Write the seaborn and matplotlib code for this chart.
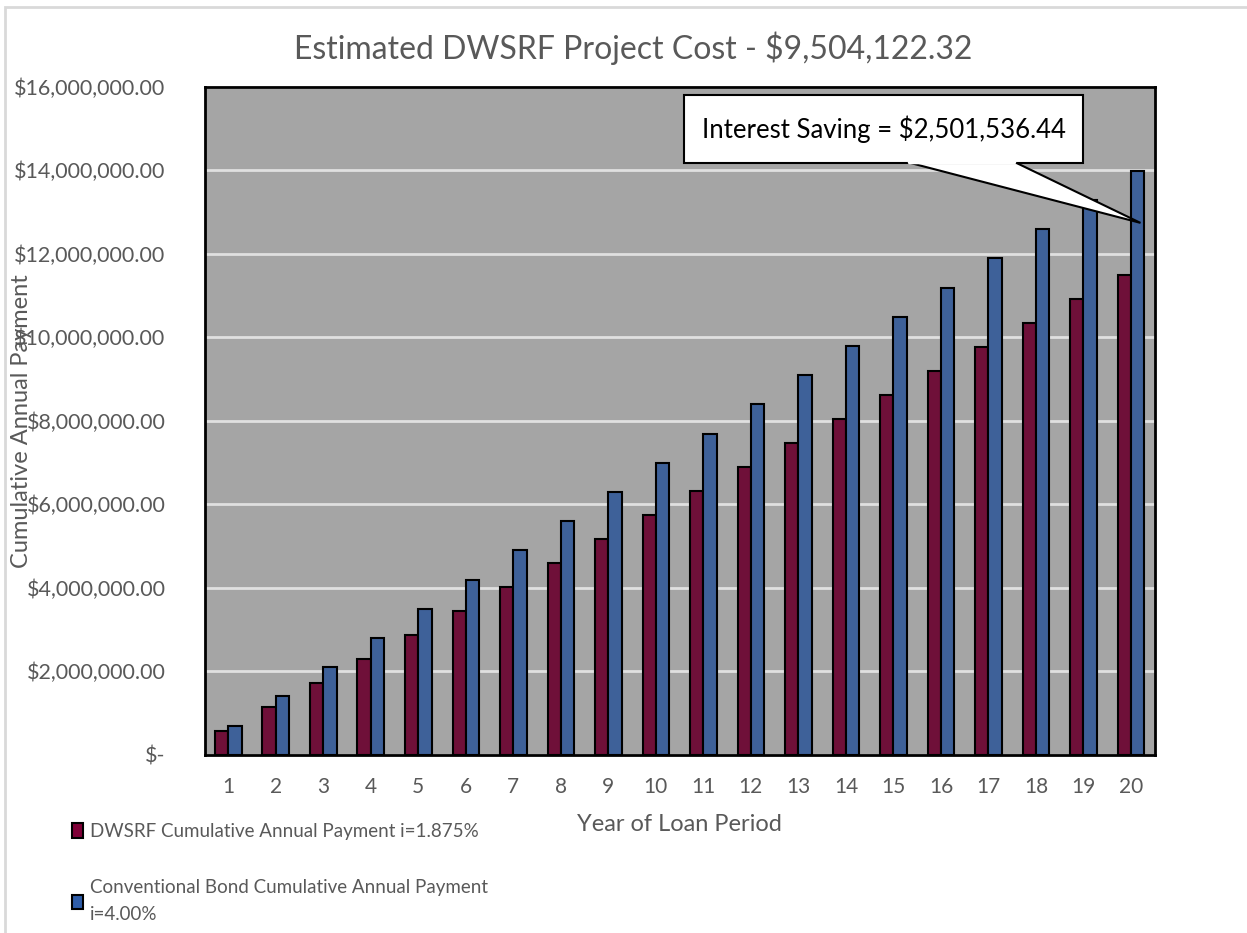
import numpy as np
import pandas as pd
import matplotlib
matplotlib.use('Agg')
import matplotlib.pyplot as plt
import matplotlib.patches as mpatches
from matplotlib.ticker import FuncFormatter
import seaborn as sns

# data
years = list(range(1, 21))
dwsrf = [574300, 1148600, 1722900, 2297200, 2871500, 3445800, 4020100, 4594400,
         5168700, 5743000, 6317300, 6891600, 7465900, 8040200, 8614500, 9188800,
         9763100, 10337400, 10911700, 11486000]
bond = [699300, 1398700, 2098000, 2797400, 3496700, 4196100, 4895400, 5594800,
        6294100, 6993500, 7692800, 8392200, 9091500, 9790900, 10490200, 11189600,
        11888900, 12588300, 13287600, 13987000]
series_names = ['DWSRF Cumulative Annual Payment i=1.875%',
                'Conventional Bond Cumulative Annual Payment\ni=4.00%']
title = 'Estimated DWSRF Project Cost - $9,504,122.32'
callout = 'Interest Saving = $2,501,536.44'

df = pd.DataFrame({
    'year': [str(y) for y in years] * 2,
    'value': dwsrf + bond,
    'series': [series_names[0]] * 20 + [series_names[1]] * 20,
})

sns.set_style('white')
plt.rcParams['font.family'] = ['Lato', 'DejaVu Sans']
text_col = '#595959'
colors = ['#7F0037', '#2F5DA8']

fig = plt.figure(figsize=(12.47, 9.33), dpi=100)
ax = fig.add_axes([0.164, 0.191, 0.762, 0.716])
ax.set_facecolor('#A5A5A5')

sns.barplot(data=df, x='year', y='value', hue='series', palette=colors,
            width=0.56, edgecolor='black', linewidth=1.5, ax=ax, legend=False,
            zorder=3)

ax.set_xlim(-0.5, 19.5)
ax.set_ylim(0, 16000000)
ax.set_yticks(np.arange(0, 16000001, 2000000))
ax.yaxis.set_major_formatter(FuncFormatter(
    lambda v, p: '$-' if v == 0 else '${:,.2f}'.format(v)))
ax.grid(axis='y', color='#E0E0E0', linewidth=2, zorder=0)
ax.set_axisbelow(True)
for s in ax.spines.values():
    s.set_color('black')
    s.set_linewidth(2)
ax.tick_params(axis='y', length=0, labelsize=15.5, colors=text_col, pad=28)
ax.tick_params(axis='x', length=0, labelsize=15, colors=text_col, pad=16)
ax.set_xlabel('Year of Loan Period', fontsize=17, color=text_col)
ax.xaxis.set_label_coords(0.5, -0.088)
ax.set_ylabel('Cumulative Annual Payment', fontsize=17, color=text_col)
ax.yaxis.set_label_coords(-0.182, 0.5)

fig.text(0.508, 0.948, title, ha='center', va='center', fontsize=23, color=text_col)

# callout box with pointer
tip = ax.transData.transform((19.2, 12740000))
tip = ax.transAxes.inverted().transform(tip)
wedge = mpatches.Polygon([(0.74, 0.887), (tip[0], tip[1]), (0.853, 0.887)],
                         closed=True, facecolor='white', edgecolor='black',
                         linewidth=1.5, transform=ax.transAxes, zorder=5)
ax.add_patch(wedge)
box = mpatches.Rectangle((0.505, 0.886), 0.42, 0.102, facecolor='white',
                         edgecolor='black', linewidth=1.5,
                         transform=ax.transAxes, zorder=6, clip_on=False)
ax.add_patch(box)
ax.plot([0.741, 0.852], [0.887, 0.887], color='white', linewidth=2.5,
        transform=ax.transAxes, zorder=7, clip_on=False, scalex=False, scaley=False)
ax.text(0.715, 0.937, callout, ha='center', va='center', fontsize=18.5,
        color='black', transform=ax.transAxes, zorder=8)

handles = [mpatches.Patch(facecolor=c, edgecolor='black', linewidth=1.5) for c in colors]
leg = fig.legend(handles, series_names, loc='upper left', bbox_to_anchor=(0.044, 0.136),
                 frameon=False, fontsize=13.5, labelcolor=text_col, handlelength=0.6,
                 handleheight=0.8, handletextpad=0.35, labelspacing=2.1)
for t in leg.get_texts():
    t.set_linespacing(1.7)

# chart area border
fig.patches.append(mpatches.Rectangle((0.004, -0.01), 1.0, 1.0 - 0.008 + 0.01,
                                      transform=fig.transFigure, fill=False,
                                      edgecolor='#D9D9D9', linewidth=2))

fig.savefig('out.png', dpi=100)
